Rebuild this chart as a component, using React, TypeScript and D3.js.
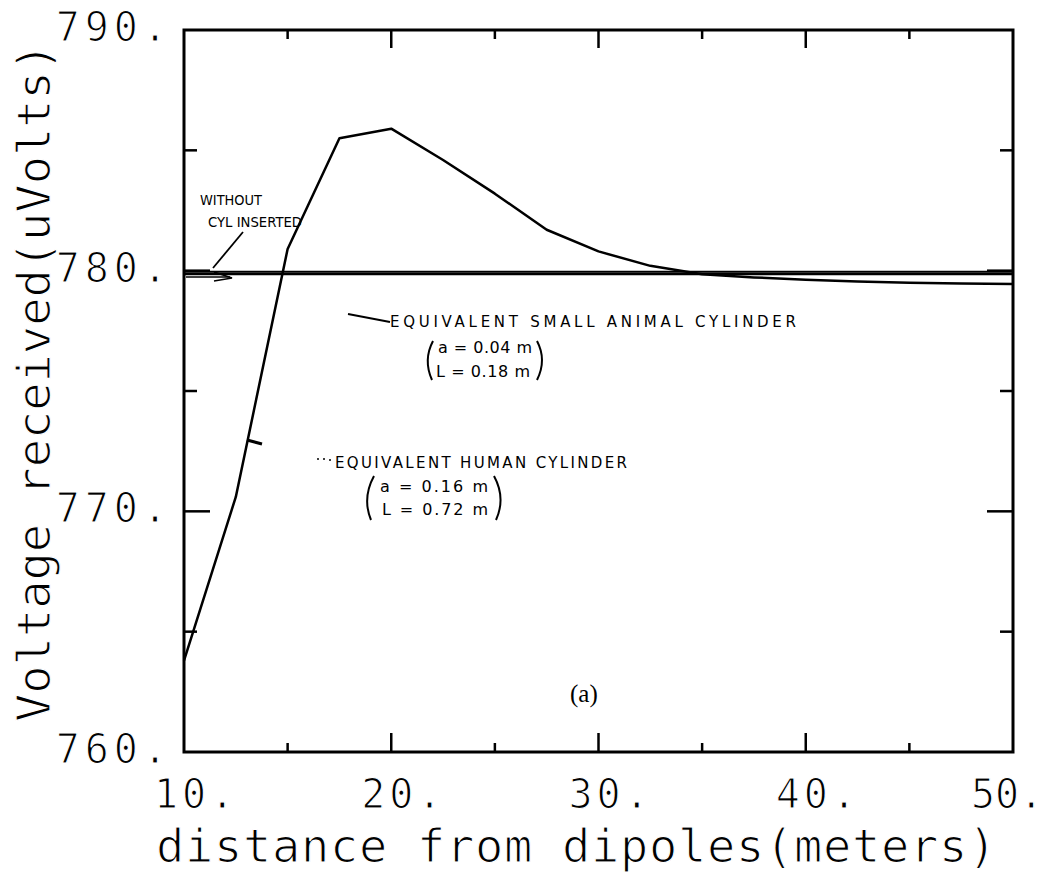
import React from "react";
import * as d3 from "d3";

// Distance from the dipoles (m) at which the received voltage was computed
const distances = [10, 12.5, 15, 17.5, 20, 22.5, 25, 27.5, 30, 32.5, 35, 37.5, 40, 42.5, 45, 47.5, 50];
// Received voltage (uV) with the equivalent human cylinder inserted
const humanVolts = [763.8, 770.6, 780.9, 785.5, 785.9, 784.6, 783.2, 781.7, 780.8, 780.2, 779.85, 779.72, 779.62, 779.55, 779.5, 779.47, 779.45];
// Received voltage (uV) with the equivalent small animal cylinder inserted
const animalDistances = [10, 50];
const animalVolts = [779.86, 779.86];
// Received voltage (uV) without any cylinder inserted
const freeDistances = [10, 50];
const freeVolts = [779.95, 779.95];

const xTickLabels = [10, 20, 30, 40, 50];
const yTickLabels = [760, 770, 780, 790];
const xMajorTicks = [20, 30, 40];
const xMinorTicks = [15, 25, 35, 45];
const yMajorTicks = [770, 780];
const yMinorTicks = [765, 775, 785];

const W = 1045;
const H = 877;
const L = 184;
const R = 1013;
const T = 30;
const B = 752;

const monoFont = "'DejaVu Sans Mono', 'Liberation Mono', monospace";
const handFont = "'DejaVu Sans', 'Liberation Sans', sans-serif";

// thin the mono glyphs a little so they read like pen-plotter strokes
const thinText = { stroke: "#fff", strokeWidth: 1.2 };

export default function App() {
  const x = d3.scaleLinear().domain([10, 50]).range([L, R]);
  const y = d3.scaleLinear().domain([760, 790]).range([B, T]);

  const line = d3
    .line<[number, number]>()
    .x((d) => x(d[0]))
    .y((d) => y(d[1]));

  const humanPts = distances.map((d, i) => [d, humanVolts[i]] as [number, number]);
  const animalPts = animalDistances.map((d, i) => [d, animalVolts[i]] as [number, number]);
  const freePts = freeDistances.map((d, i) => [d, freeVolts[i]] as [number, number]);

  const tickStroke = { stroke: "#000", strokeWidth: 2.5 };

  return (
    <svg
      width={W}
      height={H}
      viewBox={`0 0 ${W} ${H}`}
      style={{ position: "absolute", left: 0, top: 0, background: "#fff" }}
    >
      <rect x={0} y={0} width={W} height={H} fill="#fff" />

      {/* data curves */}
      <path d={line(freePts) ?? ""} fill="none" stroke="#000" strokeWidth={2} />
      <path d={line(animalPts) ?? ""} fill="none" stroke="#000" strokeWidth={2.5} />
      <path d={line(humanPts) ?? ""} fill="none" stroke="#000" strokeWidth={2.5} strokeLinejoin="round" />

      {/* frame */}
      <rect x={L} y={T} width={R - L} height={B - T} fill="none" stroke="#000" strokeWidth={3} />

      {/* ticks on all four sides, pointing inward */}
      {xMajorTicks.map((v) => (
        <g key={`xM${v}`}>
          <line x1={x(v)} x2={x(v)} y1={B} y2={B - 19} {...tickStroke} />
          <line x1={x(v)} x2={x(v)} y1={T} y2={T + 18} {...tickStroke} />
        </g>
      ))}
      {xMinorTicks.map((v) => (
        <g key={`xm${v}`}>
          <line x1={x(v)} x2={x(v)} y1={B} y2={B - 9} {...tickStroke} />
          <line x1={x(v)} x2={x(v)} y1={T} y2={T + 9} {...tickStroke} />
        </g>
      ))}
      {yMajorTicks.map((v) => (
        <g key={`yM${v}`}>
          <line x1={L} x2={L + 26} y1={y(v)} y2={y(v)} {...tickStroke} />
          <line x1={R} x2={R - 26} y1={y(v)} y2={y(v)} {...tickStroke} />
        </g>
      ))}
      {yMinorTicks.map((v) => (
        <g key={`ym${v}`}>
          <line x1={L} x2={L + 13} y1={y(v)} y2={y(v)} {...tickStroke} />
          <line x1={R} x2={R - 13} y1={y(v)} y2={y(v)} {...tickStroke} />
        </g>
      ))}

      {/* tick labels; the last one is tucked in so it stays on the page */}
      {xTickLabels.map((v) => (
        <text
          key={`xl${v}`}
          x={x(v) - (v === 50 ? 42 : 30)}
          y={B + 56}
          fontFamily={monoFont}
          fontSize={40}
          letterSpacing={v === 50 ? 0 : 4}
          fill="#000"
          {...thinText}
        >
          {`${v}.`}
        </text>
      ))}
      {yTickLabels.map((v) => (
        <text
          key={`yl${v}`}
          x={172}
          y={y(v) + 11}
          fontFamily={monoFont}
          fontSize={40}
          letterSpacing={5}
          textAnchor="end"
          fill="#000"
          {...thinText}
        >
          {`${v}.`}
        </text>
      ))}

      {/* axis titles */}
      <text x={156} y={862} fontFamily={monoFont} fontSize={47} letterSpacing={0.7} fill="#000" {...thinText}>
        distance from dipoles(meters)
      </text>
      <text
        transform="translate(50,722) rotate(-90)"
        x={0}
        y={0}
        fontFamily={monoFont}
        fontSize={47}
        fill="#000"
        {...thinText}
      >
        Voltage received(uVolts)
      </text>

      {/* annotations */}
      <g fontFamily={handFont} fill="#000" fontSize={14}>
        <text x={200} y={205} textLength={62} lengthAdjust="spacingAndGlyphs">WITHOUT</text>
        <text x={208} y={227} textLength={94} lengthAdjust="spacingAndGlyphs">CYL INSERTED</text>
        <line x1={243} y1={232} x2={213} y2={268} stroke="#000" strokeWidth={1.8} />
        <line x1={186} y1={277} x2={230} y2={277} stroke="#000" strokeWidth={1.5} />
        <path d="M214,272 L232,278 L214,281" fill="none" stroke="#000" strokeWidth={1.5} />

        <line x1={348} y1={314} x2={390} y2={322} stroke="#000" strokeWidth={2} />
        <text x={390} y={327} textLength={406} lengthAdjust="spacing" fontSize={15}>
          EQUIVALENT SMALL ANIMAL CYLINDER
        </text>
        <text x={438} y={353} textLength={94} lengthAdjust="spacing" fontSize={16}>a = 0.04 m</text>
        <text x={436} y={377} textLength={94} lengthAdjust="spacing" fontSize={16}>L = 0.18 m</text>
        <path d="M433,341 Q423,360 432,380" fill="none" stroke="#000" strokeWidth={2} />
        <path d="M537,341 Q547,360 537,380" fill="none" stroke="#000" strokeWidth={2} />

        <line x1={247} y1={440} x2={262} y2={444} stroke="#000" strokeWidth={3} />
        <circle cx={318} cy={459} r={1} />
        <circle cx={324} cy={459} r={1} />
        <circle cx={330} cy={460} r={1} />
        <text x={335} y={468} textLength={292} lengthAdjust="spacing" fontSize={15}>
          EQUIVALENT HUMAN CYLINDER
        </text>
        <text x={380} y={492} textLength={108} lengthAdjust="spacing" fontSize={16}>a = 0.16 m</text>
        <text x={382} y={515} textLength={106} lengthAdjust="spacing" fontSize={16}>L = 0.72 m</text>
        <path d="M374,476 Q362,498 371,520" fill="none" stroke="#000" strokeWidth={2} />
        <path d="M494,476 Q506,498 496,520" fill="none" stroke="#000" strokeWidth={2} />
      </g>

      <text x={570} y={702} fontFamily="'Liberation Serif', 'DejaVu Serif', serif" fontSize={25} fill="#000">
        (a)
      </text>
    </svg>
  );
}
